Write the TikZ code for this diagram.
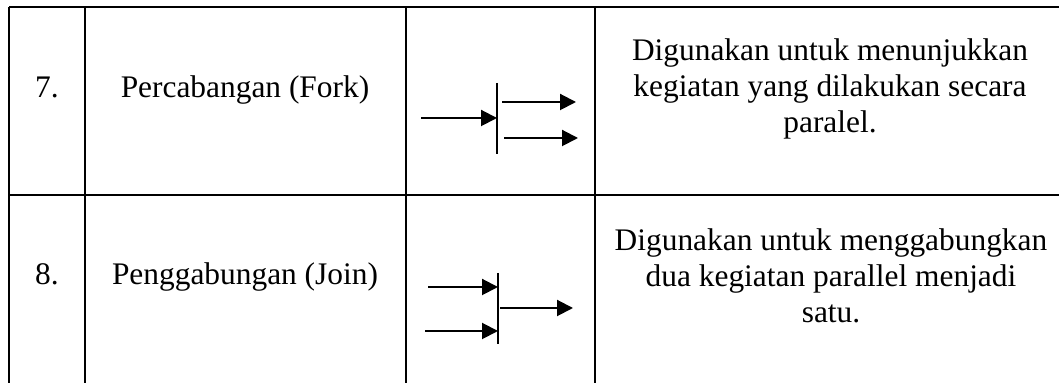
\documentclass[tikz,border=0pt]{standalone}
\usepackage{fontspec}
\setmainfont{Liberation Serif}
\usetikzlibrary{arrows.meta}

\tikzset{
  rule/.style={line width=1pt},
  flow/.style={line width=1pt,-{Triangle[length=8pt,width=8pt]}},
  bar/.style={line width=1pt},
  cell/.style={anchor=base,inner sep=0pt,align=center}
}

\begin{document}
\begin{tikzpicture}[x=0.5pt,y=-0.5pt,font=\fontsize{15.7}{18}\selectfont]
                \useasboundingbox (0,0) rectangle (1059,383);
                % table
                \draw[rule] (9,7) -- (1059,7);
                \draw[rule] (9,195) -- (1059,195);
                \foreach \x in {9,85,406,595}
                    \draw[rule] (\x,7) -- (\x,383);
                % row 7
                \node[cell] (no7) at (47,98) {7.};
                \node[cell] (fork) at (245,98) {Percabangan (Fork)};
                \node[cell] (forkdesc) at (830,133) {Digunakan untuk menunjukkan\\kegiatan yang dilakukan secara\\paralel.};
                \coordinate (forktop) at (497,83);
                \coordinate (forkbot) at (497,154);
                \coordinate (forkin) at (421,118);
                \coordinate (forkhit) at (497,118);
                \coordinate (forka) at (502,102);
                \coordinate (forkaend) at (576,102);
                \coordinate (forkb) at (504,138);
                \coordinate (forkbend) at (578,138);
                \draw[bar] (forktop) -- (forkbot);
                \draw[flow] (forkin) -- (forkhit);
                \draw[flow] (forka) -- (forkaend);
                \draw[flow] (forkb) -- (forkbend);
                % row 8
                \node[cell] (no8) at (47,285) {8.};
                \node[cell] (join) at (245,285) {Penggabungan (Join)};
                \node[cell] (joindesc) at (831,323) {Digunakan untuk menggabungkan\\dua kegiatan parallel menjadi\\satu.};
                \coordinate (jointop) at (498,273);
                \coordinate (joinbot) at (498,344);
                \coordinate (joina) at (428,287);
                \coordinate (joinahit) at (498,287);
                \coordinate (joinb) at (425,331);
                \coordinate (joinbhit) at (498,331);
                \coordinate (joinout) at (500,308);
                \coordinate (joinend) at (573,308);
                \draw[bar] (jointop) -- (joinbot);
                \draw[flow] (joina) -- (joinahit);
                \draw[flow] (joinb) -- (joinbhit);
                \draw[flow] (joinout) -- (joinend);
\end{tikzpicture}
\end{document}
